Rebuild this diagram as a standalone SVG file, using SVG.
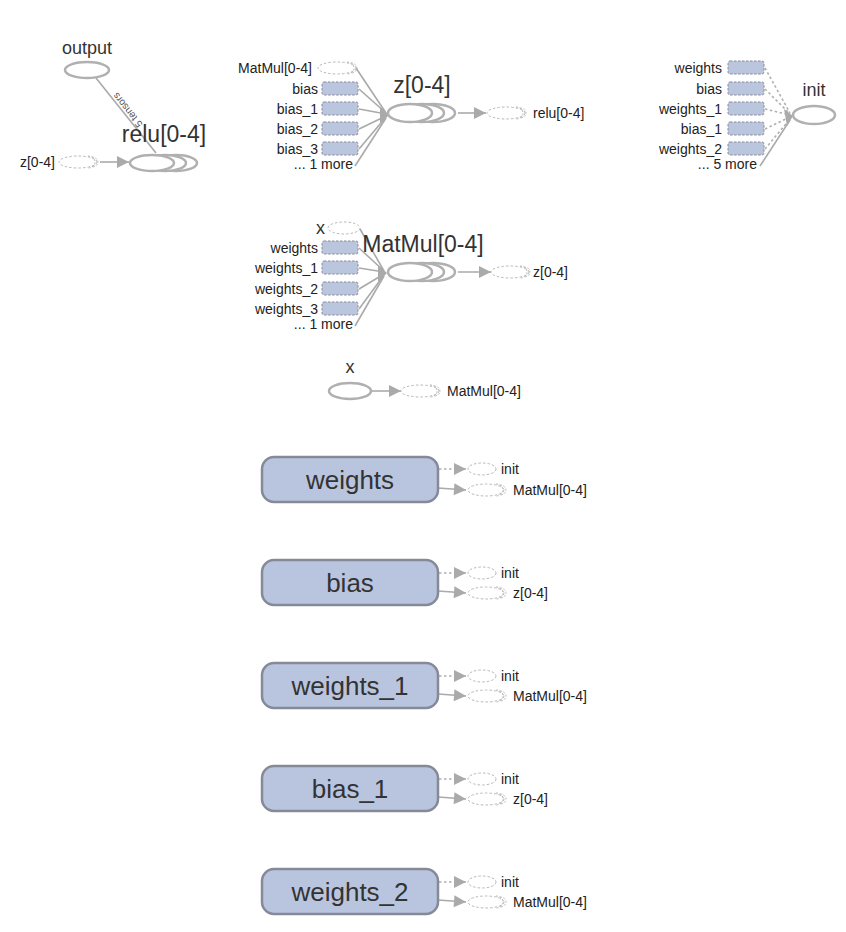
<svg xmlns="http://www.w3.org/2000/svg" width="846" height="932" viewBox="0 0 846 932">
<style>
  text { font-family: "Liberation Sans", Arial, sans-serif; fill: #333; }
  .sm { font-size: 14px; fill: #222; }
  .md { font-size: 18px; }
  .lg { font-size: 23px; }
  .xl { font-size: 26px; }
  .op { fill: #fff; stroke: #b0b0b0; stroke-width: 2.5; }
  .ref { fill: #fff; stroke: #b8b8b8; stroke-width: 1; stroke-dasharray: 2.5 2; }
  .refarc { fill: none; stroke: #b8b8b8; stroke-width: 1; stroke-dasharray: 2 1.5; }
  .var { fill: #bac6de; stroke: #8a8a9a; stroke-width: 1; stroke-dasharray: 2.5 1.5; }
  .bigvar { fill: #b9c5de; stroke: #858a98; stroke-width: 2.5; }
  .edge { fill: none; stroke: #aaa; stroke-width: 1.6; }
  .ctrl { fill: none; stroke: #b0b0b0; stroke-width: 1.6; stroke-dasharray: 2.5 2.5; }
  .hub { fill: #aaa; }
  .elabel { font-size: 10px; fill: #555; }
</style>
<defs>
  <marker id="arrbig" viewBox="0 0 10 10" refX="10" refY="5" markerWidth="14" markerHeight="12" markerUnits="userSpaceOnUse" orient="auto">
    <path d="M0,0 L10,5 L0,10 z" fill="#aaa"/>
  </marker>
</defs>

<!-- connectors -->
<g id="edges">
  <!-- output <- relu -->
  <line class="edge" x1="96" y1="78" x2="156" y2="153"/>
  <text class="elabel" transform="translate(143,124) rotate(231.4)">5 tensors</text>
  <line class="edge" x1="100" y1="162" x2="129" y2="162" marker-end="url(#arrbig)"/>

  <!-- z[0-4] inputs -->
  <line class="edge" x1="356" y1="68" x2="386" y2="113"/>
  <line class="edge" x1="359" y1="89" x2="386" y2="113"/>
  <line class="edge" x1="359" y1="109" x2="386" y2="114"/>
  <line class="edge" x1="359" y1="129" x2="386" y2="116"/>
  <line class="edge" x1="359" y1="149" x2="386" y2="117"/>
  <line class="edge" x1="355" y1="166" x2="386" y2="118"/>
  <polygon class="hub" points="380,107 389,115 380,124"/>
  <line class="edge" x1="458" y1="113" x2="486" y2="113" marker-end="url(#arrbig)"/>

  <!-- init inputs -->
  <line class="ctrl" x1="765" y1="68" x2="790" y2="113"/>
  <line class="ctrl" x1="765" y1="89" x2="790" y2="114"/>
  <line class="ctrl" x1="765" y1="109" x2="790" y2="115"/>
  <line class="ctrl" x1="765" y1="129" x2="790" y2="117"/>
  <line class="ctrl" x1="765" y1="149" x2="790" y2="119"/>
  <line class="edge" x1="760" y1="166" x2="790" y2="120"/>
  <polygon class="hub" points="784,109 793,116 787,126"/>

  <!-- MatMul[0-4] inputs -->
  <line class="edge" x1="360" y1="229" x2="384" y2="271"/>
  <line class="edge" x1="359" y1="248" x2="384" y2="271"/>
  <line class="edge" x1="359" y1="268" x2="384" y2="272"/>
  <line class="edge" x1="359" y1="289" x2="384" y2="274"/>
  <line class="edge" x1="359" y1="309" x2="384" y2="275"/>
  <line class="edge" x1="355" y1="326" x2="384" y2="276"/>
  <polygon class="hub" points="378,265 387,273 378,282"/>
  <line class="edge" x1="458" y1="272" x2="491" y2="272" marker-end="url(#arrbig)"/>

  <!-- x -> MatMul -->
  <line class="edge" x1="371" y1="391" x2="401" y2="391" marker-end="url(#arrbig)"/>

  <!-- variable outputs -->
  <line class="ctrl" x1="439" y1="469" x2="466" y2="469" marker-end="url(#arrbig)"/>
  <line class="edge" x1="438" y1="488" x2="466" y2="490" marker-end="url(#arrbig)"/>
  <line class="ctrl" x1="439" y1="573" x2="466" y2="573" marker-end="url(#arrbig)"/>
  <line class="edge" x1="438" y1="591" x2="466" y2="593" marker-end="url(#arrbig)"/>
  <line class="ctrl" x1="439" y1="676" x2="466" y2="676" marker-end="url(#arrbig)"/>
  <line class="edge" x1="438" y1="694" x2="466" y2="696" marker-end="url(#arrbig)"/>
  <line class="ctrl" x1="439" y1="779" x2="466" y2="779" marker-end="url(#arrbig)"/>
  <line class="edge" x1="438" y1="797" x2="466" y2="799" marker-end="url(#arrbig)"/>
  <line class="ctrl" x1="439" y1="882" x2="466" y2="882" marker-end="url(#arrbig)"/>
  <line class="edge" x1="438" y1="900" x2="466" y2="902" marker-end="url(#arrbig)"/>
</g>

<!-- output -->
<g id="output">
  <text class="md" x="87" y="54" text-anchor="middle">output</text>
  <ellipse class="op" cx="87" cy="70" rx="22" ry="8"/>
</g>

<!-- relu[0-4] -->
<g id="relu">
  <text class="lg" x="164" y="142" text-anchor="middle">relu[0-4]</text>
  <ellipse class="op" cx="176" cy="163" rx="21" ry="8"/>
  <ellipse class="op" cx="165" cy="163" rx="21" ry="8"/>
  <ellipse class="op" cx="152" cy="163" rx="22" ry="8"/>
</g>
<g id="relu-in-z">
  <text class="sm" x="55" y="167" text-anchor="end">z[0-4]</text>
  <ellipse class="ref" cx="78" cy="162" rx="19" ry="6"/>
  <path class="refarc" d="M88,156 A7,6 0 0 1 88,168 M92,157 A6,5 0 0 1 92,167"/>
</g>

<!-- z[0-4] -->
<g id="z">
  <text class="lg" x="422" y="93" text-anchor="middle">z[0-4]</text>
  <ellipse class="op" cx="433" cy="113" rx="22" ry="9"/>
  <ellipse class="op" cx="422" cy="113" rx="22" ry="9"/>
  <ellipse class="op" cx="410" cy="113" rx="22" ry="9"/>
</g>
<g id="z-inputs">
  <text class="sm" x="312" y="73" text-anchor="end">MatMul[0-4]</text>
  <ellipse class="ref" cx="337" cy="68" rx="19" ry="6"/>
  <path class="refarc" d="M347,62 A7,6 0 0 1 347,74 M351,63 A6,5 0 0 1 351,73"/>
  <text class="sm" x="318" y="94" text-anchor="end">bias</text>
  <rect class="var" x="322" y="82" width="36" height="13" rx="2"/>
  <text class="sm" x="318" y="114" text-anchor="end">bias_1</text>
  <rect class="var" x="322" y="102" width="36" height="13" rx="2"/>
  <text class="sm" x="318" y="134" text-anchor="end">bias_2</text>
  <rect class="var" x="322" y="122" width="36" height="13" rx="2"/>
  <text class="sm" x="318" y="154" text-anchor="end">bias_3</text>
  <rect class="var" x="322" y="142" width="36" height="13" rx="2"/>
  <text class="sm" x="353" y="169" text-anchor="end">... 1 more</text>
</g>
<g id="z-out-relu">
  <ellipse class="ref" cx="506" cy="113" rx="19" ry="6"/>
  <path class="refarc" d="M516,107 A7,6 0 0 1 516,119 M520,108 A6,5 0 0 1 520,118"/>
  <text class="sm" x="533" y="118">relu[0-4]</text>
</g>

<!-- init -->
<g id="init">
  <text class="md" x="814" y="96" text-anchor="middle">init</text>
  <ellipse class="op" cx="814" cy="115" rx="21" ry="9"/>
</g>
<g id="init-inputs">
  <text class="sm" x="722" y="73" text-anchor="end">weights</text>
  <rect class="var" x="728" y="61" width="36" height="13" rx="2"/>
  <text class="sm" x="722" y="94" text-anchor="end">bias</text>
  <rect class="var" x="728" y="82" width="36" height="13" rx="2"/>
  <text class="sm" x="722" y="114" text-anchor="end">weights_1</text>
  <rect class="var" x="728" y="102" width="36" height="13" rx="2"/>
  <text class="sm" x="722" y="134" text-anchor="end">bias_1</text>
  <rect class="var" x="728" y="122" width="36" height="13" rx="2"/>
  <text class="sm" x="722" y="154" text-anchor="end">weights_2</text>
  <rect class="var" x="728" y="142" width="36" height="13" rx="2"/>
  <text class="sm" x="757" y="169" text-anchor="end">... 5 more</text>
</g>

<!-- MatMul[0-4] -->
<g id="matmul">
  <text class="lg" x="423" y="252" text-anchor="middle">MatMul[0-4]</text>
  <ellipse class="op" cx="433" cy="272" rx="22" ry="9"/>
  <ellipse class="op" cx="422" cy="272" rx="22" ry="9"/>
  <ellipse class="op" cx="410" cy="272" rx="22" ry="9"/>
</g>
<g id="matmul-inputs">
  <text class="md" x="325" y="234" text-anchor="end">x</text>
  <ellipse class="ref" cx="344" cy="228" rx="16" ry="6"/>
  <text class="sm" x="318" y="253" text-anchor="end">weights</text>
  <rect class="var" x="322" y="241" width="36" height="13" rx="2"/>
  <text class="sm" x="318" y="273" text-anchor="end">weights_1</text>
  <rect class="var" x="322" y="261" width="36" height="13" rx="2"/>
  <text class="sm" x="318" y="294" text-anchor="end">weights_2</text>
  <rect class="var" x="322" y="282" width="36" height="13" rx="2"/>
  <text class="sm" x="318" y="314" text-anchor="end">weights_3</text>
  <rect class="var" x="322" y="302" width="36" height="13" rx="2"/>
  <text class="sm" x="353" y="329" text-anchor="end">... 1 more</text>
</g>
<g id="matmul-out-z">
  <ellipse class="ref" cx="510" cy="272" rx="19" ry="6"/>
  <path class="refarc" d="M520,266 A7,6 0 0 1 520,278 M524,267 A6,5 0 0 1 524,277"/>
  <text class="sm" x="533" y="277">z[0-4]</text>
</g>

<!-- x -->
<g id="x">
  <text class="md" x="350" y="373" text-anchor="middle">x</text>
  <ellipse class="op" cx="350" cy="391" rx="21" ry="8"/>
</g>
<g id="x-out-matmul">
  <ellipse class="ref" cx="420" cy="391" rx="19" ry="6"/>
  <path class="refarc" d="M430,385 A7,6 0 0 1 430,397 M434,386 A6,5 0 0 1 434,396"/>
  <text class="sm" x="447" y="396">MatMul[0-4]</text>
</g>

<!-- variables -->
<g id="weights">
  <rect class="bigvar" x="262" y="457" width="176" height="45" rx="12"/>
  <text class="xl" x="350" y="489" text-anchor="middle">weights</text>
  <ellipse class="ref" cx="482" cy="469" rx="14" ry="6"/>
  <text class="sm" x="501" y="474">init</text>
  <ellipse class="ref" cx="486" cy="490" rx="18" ry="6"/>
  <path class="refarc" d="M496,484 A7,6 0 0 1 496,496 M500,485 A6,5 0 0 1 500,495"/>
  <text class="sm" x="513" y="495">MatMul[0-4]</text>
</g>
<g id="bias">
  <rect class="bigvar" x="262" y="560" width="176" height="45" rx="12"/>
  <text class="xl" x="350" y="592" text-anchor="middle">bias</text>
  <ellipse class="ref" cx="482" cy="573" rx="14" ry="6"/>
  <text class="sm" x="501" y="578">init</text>
  <ellipse class="ref" cx="486" cy="593" rx="18" ry="6"/>
  <path class="refarc" d="M496,587 A7,6 0 0 1 496,599 M500,588 A6,5 0 0 1 500,598"/>
  <text class="sm" x="513" y="598">z[0-4]</text>
</g>
<g id="weights_1">
  <rect class="bigvar" x="262" y="663" width="176" height="45" rx="12"/>
  <text class="xl" x="350" y="695" text-anchor="middle">weights_1</text>
  <ellipse class="ref" cx="482" cy="676" rx="14" ry="6"/>
  <text class="sm" x="501" y="681">init</text>
  <ellipse class="ref" cx="486" cy="696" rx="18" ry="6"/>
  <path class="refarc" d="M496,690 A7,6 0 0 1 496,702 M500,691 A6,5 0 0 1 500,701"/>
  <text class="sm" x="513" y="701">MatMul[0-4]</text>
</g>
<g id="bias_1">
  <rect class="bigvar" x="262" y="766" width="176" height="45" rx="12"/>
  <text class="xl" x="350" y="798" text-anchor="middle">bias_1</text>
  <ellipse class="ref" cx="482" cy="779" rx="14" ry="6"/>
  <text class="sm" x="501" y="784">init</text>
  <ellipse class="ref" cx="486" cy="799" rx="18" ry="6"/>
  <path class="refarc" d="M496,793 A7,6 0 0 1 496,805 M500,794 A6,5 0 0 1 500,804"/>
  <text class="sm" x="513" y="804">z[0-4]</text>
</g>
<g id="weights_2">
  <rect class="bigvar" x="262" y="869" width="176" height="45" rx="12"/>
  <text class="xl" x="350" y="901" text-anchor="middle">weights_2</text>
  <ellipse class="ref" cx="482" cy="882" rx="14" ry="6"/>
  <text class="sm" x="501" y="887">init</text>
  <ellipse class="ref" cx="486" cy="902" rx="18" ry="6"/>
  <path class="refarc" d="M496,896 A7,6 0 0 1 496,908 M500,897 A6,5 0 0 1 500,907"/>
  <text class="sm" x="513" y="907">MatMul[0-4]</text>
</g>
</svg>
